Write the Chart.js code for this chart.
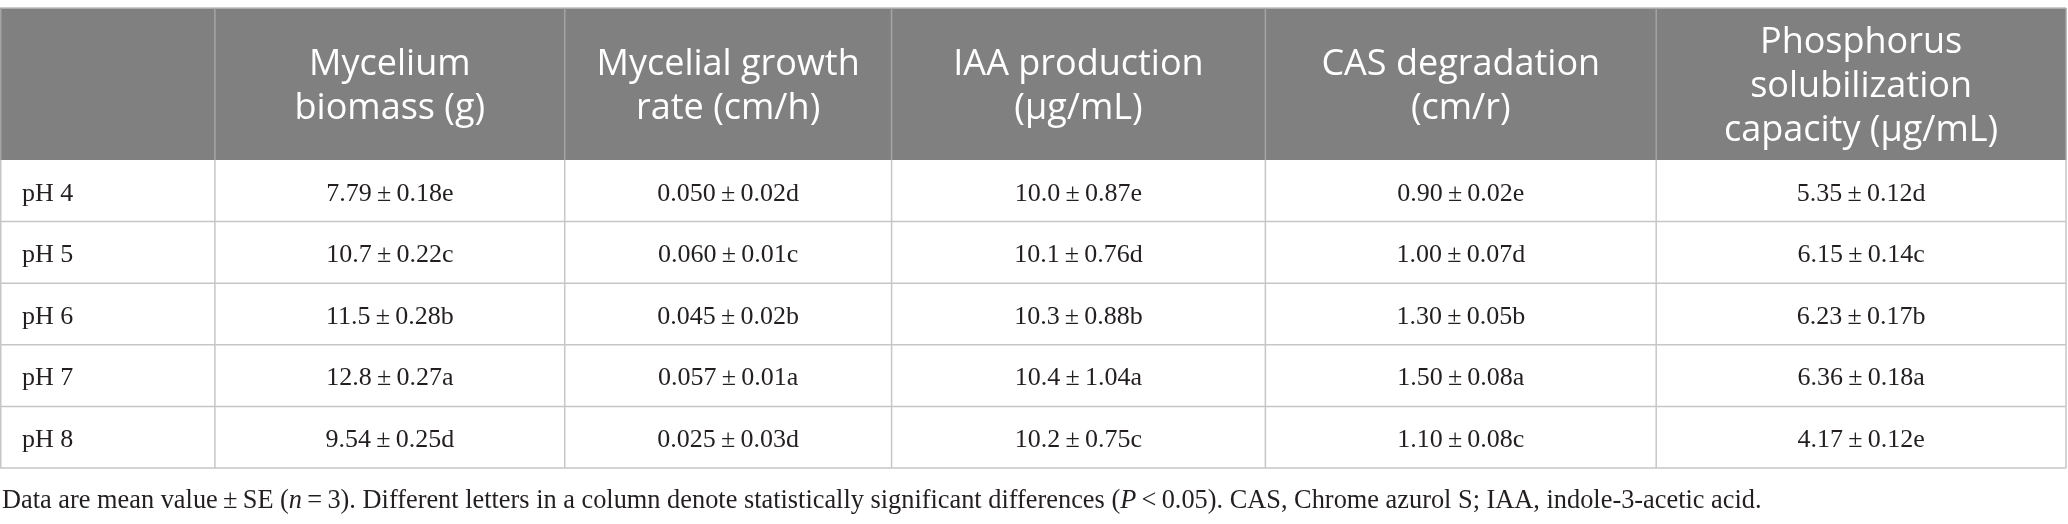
<!DOCTYPE html>
<html>
<head>
<meta charset="utf-8">
<script src="https://cdn.jsdelivr.net/npm/chart.js@4/dist/chart.umd.min.js"></script>
<style>
  html, body { margin: 0; padding: 0; background: #ffffff; }
  #wrap { width: 2068px; height: 524px; position: relative; }
</style>
</head>
<body>
<div id="wrap"><canvas id="c"></canvas></div>
<script>
// ---------- DATA ----------
const headers = [
  [],
  ["Mycelium", "biomass (g)"],
  ["Mycelial growth", "rate (cm/h)"],
  ["IAA production", "(\u03bcg/mL)"],
  ["CAS degradation", "(cm/r)"],
  ["Phosphorus", "solubilization", "capacity (\u03bcg/mL)"]
];
const rowLabels = ["pH 4", "pH 5", "pH 6", "pH 7", "pH 8"];

const biomassMean = ["7.79", "10.7", "11.5", "12.8", "9.54"];
const biomassSE   = ["0.18", "0.22", "0.28", "0.27", "0.25"];
const biomassSig  = ["e", "c", "b", "a", "d"];

const growthMean = ["0.050", "0.060", "0.045", "0.057", "0.025"];
const growthSE   = ["0.02", "0.01", "0.02", "0.01", "0.03"];
const growthSig  = ["d", "c", "b", "a", "d"];

const iaaMean = ["10.0", "10.1", "10.3", "10.4", "10.2"];
const iaaSE   = ["0.87", "0.76", "0.88", "1.04", "0.75"];
const iaaSig  = ["e", "d", "b", "a", "c"];

const casMean = ["0.90", "1.00", "1.30", "1.50", "1.10"];
const casSE   = ["0.02", "0.07", "0.05", "0.08", "0.08"];
const casSig  = ["e", "d", "b", "a", "c"];

const phosMean = ["5.35", "6.15", "6.23", "6.36", "4.17"];
const phosSE   = ["0.12", "0.14", "0.17", "0.18", "0.12"];
const phosSig  = ["d", "c", "b", "a", "e"];

const footnoteRuns = [
  ["Data are mean value\u2009\u00b1\u2009SE (", false],
  ["n", true],
  ["\u2009=\u20093). Different letters in a column denote statistically significant differences (", false],
  ["P", true],
  ["\u2009<\u20090.05). CAS, Chrome azurol S; IAA, indole-3-acetic acid.", false]
];

// ---------- LAYOUT / STYLE ----------
const colWidths = [215, 350, 327, 374, 391, 410];
const HEADER_UNITS = 152 / 61.6;
const FOOT_WIDTH = 1760;
const SERIF = '"Liberation Serif", "DejaVu Serif", serif';
const SANS = '"Open Sans", "Noto Sans", sans-serif';
const HEAD_FONT = 36;
const HEAD_LH = 44;
const HEAD_SHIFT = 3;
const BODY_FONT = 26;
const FOOT_GAP = 40;

const colEdges = [0];
colWidths.forEach(w => colEdges.push(colEdges[colEdges.length - 1] + w));
const totalW = colEdges[colEdges.length - 1];

const series = [
  [biomassMean, biomassSE, biomassSig],
  [growthMean, growthSE, growthSig],
  [iaaMean, iaaSE, iaaSig],
  [casMean, casSE, casSig],
  [phosMean, phosSE, phosSig]
];

// one point per body cell, carried through the chart's scales
const cellPoints = [];
rowLabels.forEach((lab, r) => {
  cellPoints.push({ x: colEdges[0] + 22, y: HEADER_UNITS + r + 0.5, text: lab, align: 'left' });
  series.forEach((s, c) => {
    const txt = s[0][r] + "\u2009\u00b1\u2009" + s[1][r] + s[2][r];
    cellPoints.push({ x: (colEdges[c + 1] + colEdges[c + 2]) / 2, y: HEADER_UNITS + r + 0.5, text: txt, align: 'center' });
  });
});
const headerPoints = [];
headers.forEach((lines, c) => {
  headerPoints.push({ x: (colEdges[c] + colEdges[c + 1]) / 2, y: HEADER_UNITS / 2, lines: lines });
});

const tablePlugin = {
  id: 'tablePlugin',
  beforeDatasetsDraw(chart) {
    const ctx = chart.ctx;
    const xs = chart.scales.x, ys = chart.scales.y;
    const X = v => xs.getPixelForValue(v);
    const Y = v => ys.getPixelForValue(v);
    ctx.save();
    ctx.fillStyle = '#808080';
    ctx.fillRect(X(0), Y(0), X(totalW) - X(0), Y(HEADER_UNITS) - Y(0));
    ctx.strokeStyle = '#bdbdbd';
    ctx.lineWidth = 1.5;
    ctx.beginPath(); ctx.moveTo(X(0), Y(0)); ctx.lineTo(X(totalW), Y(0)); ctx.stroke();
    ctx.strokeStyle = '#a4a4a4';
    colEdges.forEach(e => {
      const px = Math.min(Math.max(X(e), 0.75), X(totalW));
      ctx.beginPath(); ctx.moveTo(px, Y(0)); ctx.lineTo(px, Y(HEADER_UNITS)); ctx.stroke();
    });
    ctx.strokeStyle = '#c6c6c6';
    for (let r = 1; r <= rowLabels.length; r++) {
      ctx.beginPath(); ctx.moveTo(X(0), Y(HEADER_UNITS + r)); ctx.lineTo(X(totalW), Y(HEADER_UNITS + r)); ctx.stroke();
    }
    colEdges.forEach(e => {
      const px = Math.min(Math.max(X(e), 0.75), X(totalW));
      ctx.beginPath(); ctx.moveTo(px, Y(HEADER_UNITS)); ctx.lineTo(px, Y(HEADER_UNITS + rowLabels.length)); ctx.stroke();
    });
    ctx.restore();
  },
  afterDatasetsDraw(chart) {
    const ctx = chart.ctx;
    const xs = chart.scales.x, ys = chart.scales.y;
    ctx.save();
    ctx.fillStyle = '#ffffff';
    ctx.font = '400 ' + HEAD_FONT + 'px ' + SANS;
    ctx.textAlign = 'center';
    ctx.textBaseline = 'middle';
    const hMeta = chart.getDatasetMeta(1);
    hMeta.data.forEach((el, i) => {
      const lines = headerPoints[i].lines;
      const n = lines.length;
      lines.forEach((ln, k) => {
        ctx.fillText(ln, el.x, el.y + HEAD_SHIFT + (k - (n - 1) / 2) * HEAD_LH);
      });
    });
    ctx.fillStyle = '#231f20';
    ctx.font = BODY_FONT + 'px ' + SERIF;
    const meta = chart.getDatasetMeta(0);
    meta.data.forEach((el, i) => {
      const p = cellPoints[i];
      ctx.textAlign = p.align;
      ctx.fillText(p.text, el.x, el.y + 3);
    });
    ctx.textAlign = 'left';
    ctx.textBaseline = 'alphabetic';
    const base = 26;
    let w = 0;
    footnoteRuns.forEach(([t, it]) => {
      ctx.font = (it ? 'italic ' : '') + base + 'px ' + SERIF;
      w += ctx.measureText(t).width;
    });
    const fs = base * FOOT_WIDTH / w;
    let fx = xs.getPixelForValue(0) + 2;
    const fy = ys.getPixelForValue(HEADER_UNITS + rowLabels.length) + FOOT_GAP;
    footnoteRuns.forEach(([t, it]) => {
      ctx.font = (it ? 'italic ' : '') + fs.toFixed(2) + 'px ' + SERIF;
      ctx.fillText(t, fx, fy);
      fx += ctx.measureText(t).width;
    });
    ctx.restore();
  }
};

new Chart(document.getElementById('c'), {
  type: 'scatter',
  data: {
    datasets: [
      { label: 'cells', data: cellPoints, pointRadius: 0, pointHoverRadius: 0, showLine: false },
      { label: 'headers', data: headerPoints, pointRadius: 0, pointHoverRadius: 0, showLine: false }
    ]
  },
  options: {
    responsive: true,
    maintainAspectRatio: false,
    animation: false,
    devicePixelRatio: 1,
    events: [],
    layout: { padding: { top: 8, left: 0, right: 2, bottom: 56 } },
    plugins: { legend: { display: false }, tooltip: { enabled: false }, title: { display: false } },
    scales: {
      x: { type: 'linear', display: false, min: 0, max: totalW },
      y: { type: 'linear', display: false, reverse: true, min: 0, max: HEADER_UNITS + rowLabels.length }
    }
  },
  plugins: [tablePlugin]
});
</script>
</body>
</html>
